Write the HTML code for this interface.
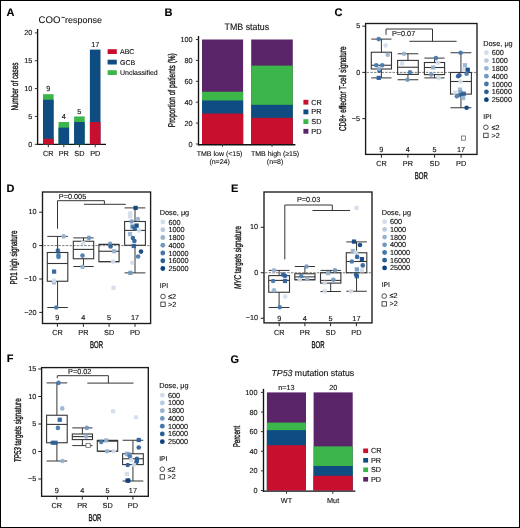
<!DOCTYPE html>
<html><head><meta charset="utf-8"><title>Figure</title>
<style>
html,body{margin:0;padding:0;background:#fff;}
body{width:520px;height:528px;overflow:hidden;position:relative;}
svg text.cond{stroke-width:0.35px;}
svg{position:absolute;left:0;top:0;display:block;will-change:transform;}
svg text{font-family:"Liberation Sans", sans-serif;text-rendering:geometricPrecision;stroke:#111;stroke-width:0.12px;}
</style></head>
<body>
<svg width="520" height="528" viewBox="0 0 520 528">
<rect x="0" y="0" width="520" height="528" fill="#fff"/>
<text x="6.4" y="16.3" font-size="11" text-anchor="start" font-weight="bold" fill="#000" >A</text>
<text x="38.6" y="22.8" font-size="9.6" text-anchor="start" font-weight="normal" fill="#111" >COO</text>
<line x1="61.5" y1="17.4" x2="64.8" y2="17.4" stroke="#222" stroke-width="0.9" />
<text x="65.1" y="22.85" font-size="8.95" text-anchor="start" font-weight="normal" fill="#111" >response</text>
<line x1="37.6" y1="29" x2="37.6" y2="145.1" stroke="#111" stroke-width="1.35" />
<line x1="36.95" y1="144.45" x2="106" y2="144.45" stroke="#111" stroke-width="1.3" />
<line x1="34.8" y1="144.3" x2="37.6" y2="144.3" stroke="#353535" stroke-width="1" />
<text x="32.3" y="146.8" font-size="7.3" text-anchor="end" font-weight="normal" fill="#111" >0</text>
<line x1="34.8" y1="116.45000000000002" x2="37.6" y2="116.45000000000002" stroke="#353535" stroke-width="1" />
<text x="32.3" y="118.95000000000002" font-size="7.3" text-anchor="end" font-weight="normal" fill="#111" >5</text>
<line x1="34.8" y1="88.60000000000001" x2="37.6" y2="88.60000000000001" stroke="#353535" stroke-width="1" />
<text x="32.3" y="91.10000000000001" font-size="7.3" text-anchor="end" font-weight="normal" fill="#111" >10</text>
<line x1="34.8" y1="60.75" x2="37.6" y2="60.75" stroke="#353535" stroke-width="1" />
<text x="32.3" y="63.25" font-size="7.3" text-anchor="end" font-weight="normal" fill="#111" >15</text>
<line x1="34.8" y1="32.900000000000006" x2="37.6" y2="32.900000000000006" stroke="#353535" stroke-width="1" />
<text x="32.3" y="35.400000000000006" font-size="7.3" text-anchor="end" font-weight="normal" fill="#111" >20</text>
<rect x="43.0" y="94.17000000000002" width="10.6" height="50.13" fill="#3cb54a"/>
<rect x="43.0" y="99.74000000000001" width="10.6" height="44.56" fill="#0f4c81"/>
<rect x="43.0" y="138.73000000000002" width="10.6" height="5.57" fill="#c8102e"/>
<line x1="48.3" y1="144.3" x2="48.3" y2="147.3" stroke="#353535" stroke-width="1" />
<text x="48.3" y="91.37000000000002" font-size="7.3" text-anchor="middle" font-weight="normal" fill="#111" >9</text>
<text x="48.3" y="156.3" font-size="7.3" text-anchor="middle" font-weight="normal" fill="#111" >CR</text>
<rect x="58.5" y="122.02000000000001" width="10.6" height="22.28" fill="#3cb54a"/>
<rect x="58.5" y="127.59" width="10.6" height="16.71" fill="#0f4c81"/>
<line x1="63.8" y1="144.3" x2="63.8" y2="147.3" stroke="#353535" stroke-width="1" />
<text x="63.8" y="119.22000000000001" font-size="7.3" text-anchor="middle" font-weight="normal" fill="#111" >4</text>
<text x="63.8" y="156.3" font-size="7.3" text-anchor="middle" font-weight="normal" fill="#111" >PR</text>
<rect x="74.10000000000001" y="116.45000000000002" width="10.6" height="27.85" fill="#3cb54a"/>
<rect x="74.10000000000001" y="122.02000000000001" width="10.6" height="22.28" fill="#0f4c81"/>
<line x1="79.4" y1="144.3" x2="79.4" y2="147.3" stroke="#353535" stroke-width="1" />
<text x="79.4" y="113.65000000000002" font-size="7.3" text-anchor="middle" font-weight="normal" fill="#111" >5</text>
<text x="79.4" y="156.3" font-size="7.3" text-anchor="middle" font-weight="normal" fill="#111" >SD</text>
<rect x="89.9" y="49.610000000000014" width="10.6" height="94.69" fill="#0f4c81"/>
<rect x="89.9" y="122.02000000000001" width="10.6" height="22.28" fill="#c8102e"/>
<line x1="95.2" y1="144.3" x2="95.2" y2="147.3" stroke="#353535" stroke-width="1" />
<text x="95.2" y="46.81000000000002" font-size="7.3" text-anchor="middle" font-weight="normal" fill="#111" >17</text>
<text x="95.2" y="156.3" font-size="7.3" text-anchor="middle" font-weight="normal" fill="#111" >PD</text>
<rect x="107.6" y="49.2" width="9.2" height="4.8" fill="#c8102e"/>
<text x="120" y="54.2" font-size="7" text-anchor="start" font-weight="normal" fill="#111" >ABC</text>
<rect x="107.6" y="59.7" width="9.2" height="4.8" fill="#0f4c81"/>
<text x="120" y="64.7" font-size="7" text-anchor="start" font-weight="normal" fill="#111" >GCB</text>
<rect x="107.6" y="70.2" width="9.2" height="4.8" fill="#3cb54a"/>
<text x="120" y="75.2" font-size="7" text-anchor="start" font-weight="normal" fill="#111" >Unclassified</text>
<text class="cond" transform="translate(18,86.5) rotate(-90)" font-size="9.8" text-anchor="middle" fill="#111" textLength="48" lengthAdjust="spacingAndGlyphs">Number of cases</text>
<text x="164.4" y="16.2" font-size="11" text-anchor="start" font-weight="bold" fill="#000" >B</text>
<text x="224.6" y="29.8" font-size="9.5" text-anchor="start" font-weight="normal" fill="#111" textLength="44.6" lengthAdjust="spacingAndGlyphs">TMB status</text>
<line x1="198.5" y1="36" x2="198.5" y2="145.4" stroke="#111" stroke-width="1.35" />
<line x1="197.85" y1="144.7" x2="295.4" y2="144.7" stroke="#111" stroke-width="1.4" />
<line x1="195.9" y1="144.0" x2="198.5" y2="144.0" stroke="#353535" stroke-width="1" />
<text x="192.6" y="146.5" font-size="7.3" text-anchor="end" font-weight="normal" fill="#111" >0</text>
<line x1="195.9" y1="123.1" x2="198.5" y2="123.1" stroke="#353535" stroke-width="1" />
<text x="192.6" y="125.6" font-size="7.3" text-anchor="end" font-weight="normal" fill="#111" >20</text>
<line x1="195.9" y1="102.2" x2="198.5" y2="102.2" stroke="#353535" stroke-width="1" />
<text x="192.6" y="104.7" font-size="7.3" text-anchor="end" font-weight="normal" fill="#111" >40</text>
<line x1="195.9" y1="81.30000000000001" x2="198.5" y2="81.30000000000001" stroke="#353535" stroke-width="1" />
<text x="192.6" y="83.80000000000001" font-size="7.3" text-anchor="end" font-weight="normal" fill="#111" >60</text>
<line x1="195.9" y1="60.400000000000006" x2="198.5" y2="60.400000000000006" stroke="#353535" stroke-width="1" />
<text x="192.6" y="62.900000000000006" font-size="7.3" text-anchor="end" font-weight="normal" fill="#111" >80</text>
<line x1="195.9" y1="39.5" x2="198.5" y2="39.5" stroke="#353535" stroke-width="1" />
<text x="192.6" y="42.0" font-size="7.3" text-anchor="end" font-weight="normal" fill="#111" >100</text>
<rect x="202" y="39.5" width="41.099999999999994" height="104.5" fill="#5a2469"/>
<rect x="202" y="91.75" width="41.099999999999994" height="52.25" fill="#3cb54a"/>
<rect x="202" y="100.45485" width="41.099999999999994" height="43.54515" fill="#0f4c81"/>
<rect x="202" y="113.51735" width="41.099999999999994" height="30.48265" fill="#c8102e"/>
<line x1="222.5" y1="144.0" x2="222.5" y2="146.8" stroke="#353535" stroke-width="1" />
<rect x="251.2" y="39.5" width="41.60000000000002" height="104.5" fill="#5a2469"/>
<rect x="251.2" y="65.625" width="41.60000000000002" height="78.375" fill="#3cb54a"/>
<rect x="251.2" y="104.8125" width="41.60000000000002" height="39.1875" fill="#0f4c81"/>
<rect x="251.2" y="117.875" width="41.60000000000002" height="26.125" fill="#c8102e"/>
<line x1="272" y1="144.0" x2="272" y2="146.8" stroke="#353535" stroke-width="1" />
<text x="219.6" y="155.8" font-size="7" text-anchor="middle" font-weight="normal" fill="#111" >TMB low (&lt;15)</text>
<text x="219.6" y="164" font-size="7" text-anchor="middle" font-weight="normal" fill="#111" >(n=24)</text>
<text x="275.1" y="155.8" font-size="7" text-anchor="middle" font-weight="normal" fill="#111" >TMB high (≥15)</text>
<text x="275.1" y="164" font-size="7" text-anchor="middle" font-weight="normal" fill="#111" >(n=8)</text>
<rect x="303.4" y="99.8" width="5" height="4.8" fill="#c8102e"/>
<text x="311.3" y="104.7" font-size="7.3" text-anchor="start" font-weight="normal" fill="#111" >CR</text>
<rect x="303.4" y="109.5" width="5" height="4.8" fill="#0f4c81"/>
<text x="311.3" y="114.4" font-size="7.3" text-anchor="start" font-weight="normal" fill="#111" >PR</text>
<rect x="303.4" y="119.19999999999999" width="5" height="4.8" fill="#3cb54a"/>
<text x="311.3" y="124.1" font-size="7.3" text-anchor="start" font-weight="normal" fill="#111" >SD</text>
<rect x="303.4" y="128.9" width="5" height="4.8" fill="#5a2469"/>
<text x="311.3" y="133.8" font-size="7.3" text-anchor="start" font-weight="normal" fill="#111" >PD</text>
<text class="cond" transform="translate(174.6,90.2) rotate(-90)" font-size="9.8" text-anchor="middle" fill="#111" textLength="74" lengthAdjust="spacingAndGlyphs">Proportion of patients (%)</text>
<text x="334.4" y="16.2" font-size="11" text-anchor="start" font-weight="bold" fill="#000" >C</text>
<line x1="366.6" y1="72.4" x2="477.0" y2="72.4" stroke="#707070" stroke-width="0.9" stroke-dasharray="2.5,1.2"/>
<rect x="365.6" y="23.5" width="111.39999999999998" height="130.9" fill="none" stroke="#1a1a1a" stroke-width="1.35"/>
<line x1="362.3" y1="26.150000000000006" x2="365.6" y2="26.150000000000006" stroke="#222" stroke-width="1" />
<text x="360.2" y="28.350000000000005" font-size="7.3" text-anchor="end" font-weight="normal" fill="#111" >5</text>
<line x1="362.3" y1="72.4" x2="365.6" y2="72.4" stroke="#222" stroke-width="1" />
<text x="360.2" y="74.60000000000001" font-size="7.3" text-anchor="end" font-weight="normal" fill="#111" >0</text>
<line x1="362.3" y1="118.65" x2="365.6" y2="118.65" stroke="#222" stroke-width="1" />
<text x="360.2" y="120.85000000000001" font-size="7.3" text-anchor="end" font-weight="normal" fill="#111" >−5</text>
<line x1="381.4" y1="154.4" x2="381.4" y2="157.70000000000002" stroke="#222" stroke-width="1" />
<text x="381.4" y="151.5" font-size="7.3" text-anchor="middle" font-weight="normal" fill="#111" >9</text>
<text x="381.4" y="166.3" font-size="7.3" text-anchor="middle" font-weight="normal" fill="#111" >CR</text>
<line x1="407.9" y1="154.4" x2="407.9" y2="157.70000000000002" stroke="#222" stroke-width="1" />
<text x="407.9" y="151.5" font-size="7.3" text-anchor="middle" font-weight="normal" fill="#111" >4</text>
<text x="407.9" y="166.3" font-size="7.3" text-anchor="middle" font-weight="normal" fill="#111" >PR</text>
<line x1="434.6" y1="154.4" x2="434.6" y2="157.70000000000002" stroke="#222" stroke-width="1" />
<text x="434.6" y="151.5" font-size="7.3" text-anchor="middle" font-weight="normal" fill="#111" >5</text>
<text x="434.6" y="166.3" font-size="7.3" text-anchor="middle" font-weight="normal" fill="#111" >SD</text>
<line x1="461.1" y1="154.4" x2="461.1" y2="157.70000000000002" stroke="#222" stroke-width="1" />
<text x="461.1" y="151.5" font-size="7.3" text-anchor="middle" font-weight="normal" fill="#111" >17</text>
<text x="461.1" y="166.3" font-size="7.3" text-anchor="middle" font-weight="normal" fill="#111" >PD</text>
<text class="cond" x="421.3" y="178.9" font-size="9.8" text-anchor="middle" fill="#111" textLength="13" lengthAdjust="spacingAndGlyphs">BOR</text>
<path d="M386,34.8 V29 H432.5 V41.3" fill="none" stroke="#353535" stroke-width="1"/>
<line x1="409.4" y1="41.3" x2="456.6" y2="41.3" stroke="#353535" stroke-width="1" />
<text x="391.9" y="36" font-size="7.3" text-anchor="start" font-weight="normal" fill="#111" >P=0.07</text>
<line x1="381.4" y1="39.1" x2="381.4" y2="52.25" stroke="#353535" stroke-width="1" />
<line x1="381.4" y1="69" x2="381.4" y2="77.9" stroke="#353535" stroke-width="1" />
<line x1="371.3" y1="39.1" x2="391.5" y2="39.1" stroke="#353535" stroke-width="1" />
<line x1="371.3" y1="77.9" x2="391.5" y2="77.9" stroke="#353535" stroke-width="1" />
<rect x="371.3" y="52.25" width="20.19999999999999" height="16.75" fill="none" stroke="#353535" stroke-width="1.1"/>
<line x1="371.3" y1="65.25" x2="391.5" y2="65.25" stroke="#353535" stroke-width="1.1" />
<line x1="407.95000000000005" y1="53.75" x2="407.95000000000005" y2="60.4" stroke="#353535" stroke-width="1" />
<line x1="407.95000000000005" y1="74.4" x2="407.95000000000005" y2="79.75" stroke="#353535" stroke-width="1" />
<line x1="397.6" y1="53.75" x2="418.3" y2="53.75" stroke="#353535" stroke-width="1" />
<line x1="397.6" y1="79.75" x2="418.3" y2="79.75" stroke="#353535" stroke-width="1" />
<rect x="397.6" y="60.4" width="20.69999999999999" height="14.000000000000007" fill="none" stroke="#353535" stroke-width="1.1"/>
<line x1="397.6" y1="67.25" x2="418.3" y2="67.25" stroke="#353535" stroke-width="1.1" />
<line x1="434.5" y1="58.1" x2="434.5" y2="62.5" stroke="#353535" stroke-width="1" />
<line x1="434.5" y1="74.6" x2="434.5" y2="77.9" stroke="#353535" stroke-width="1" />
<line x1="424.4" y1="58.1" x2="444.6" y2="58.1" stroke="#353535" stroke-width="1" />
<line x1="424.4" y1="77.9" x2="444.6" y2="77.9" stroke="#353535" stroke-width="1" />
<rect x="424.4" y="62.5" width="20.200000000000045" height="12.099999999999994" fill="none" stroke="#353535" stroke-width="1.1"/>
<line x1="424.4" y1="67.5" x2="444.6" y2="67.5" stroke="#353535" stroke-width="1.1" />
<line x1="460.95" y1="52.75" x2="460.95" y2="72.5" stroke="#353535" stroke-width="1" />
<line x1="460.95" y1="94.1" x2="460.95" y2="107.75" stroke="#353535" stroke-width="1" />
<line x1="450.5" y1="52.75" x2="471.4" y2="52.75" stroke="#353535" stroke-width="1" />
<line x1="450.5" y1="107.75" x2="471.4" y2="107.75" stroke="#353535" stroke-width="1" />
<rect x="450.5" y="72.5" width="20.899999999999977" height="21.599999999999994" fill="none" stroke="#353535" stroke-width="1.1"/>
<line x1="450.5" y1="81.5" x2="471.4" y2="81.5" stroke="#353535" stroke-width="1.1" />
<circle cx="378.75" cy="39.1" r="2.3" fill="#4677ab" fill-opacity="0.92"/>
<circle cx="385.6" cy="45.4" r="2.3" fill="#d2dde9" fill-opacity="0.92"/>
<circle cx="387.75" cy="54.75" r="2.3" fill="#97b3d0" fill-opacity="0.92"/>
<circle cx="376.25" cy="65.25" r="2.3" fill="#4677ab" fill-opacity="0.92"/>
<circle cx="382.25" cy="65.25" r="2.3" fill="#4677ab" fill-opacity="0.92"/>
<circle cx="379.4" cy="70.6" r="2.3" fill="#2a5e96" fill-opacity="0.92"/>
<circle cx="379" cy="68.75" r="2.3" fill="#97b3d0" fill-opacity="0.92"/>
<rect x="376.62" y="75.77" width="4.25" height="4.25" fill="#2a5e96" fill-opacity="0.92"/>
<circle cx="404" cy="53.75" r="2.3" fill="#97b3d0" fill-opacity="0.92"/>
<rect x="399.97" y="61.27" width="4.25" height="4.25" fill="#d2dde9" fill-opacity="0.92"/>
<circle cx="410" cy="72.25" r="2.3" fill="#4677ab" fill-opacity="0.92"/>
<circle cx="407.5" cy="79.75" r="2.3" fill="#7398c0" fill-opacity="0.92"/>
<circle cx="435.9" cy="58.1" r="2.3" fill="#4677ab" fill-opacity="0.92"/>
<circle cx="438.1" cy="62.75" r="2.3" fill="#d2dde9" fill-opacity="0.92"/>
<rect x="430.97" y="65.37" width="4.25" height="4.25" fill="#97b3d0" fill-opacity="0.92"/>
<circle cx="431.25" cy="74.6" r="2.3" fill="#7398c0" fill-opacity="0.92"/>
<circle cx="438.75" cy="78.1" r="2.3" fill="#d2dde9" fill-opacity="0.92"/>
<circle cx="460.6" cy="52.75" r="2.3" fill="#4677ab" fill-opacity="0.92"/>
<rect x="462.87" y="63.12" width="4.25" height="4.25" fill="#97b3d0" fill-opacity="0.92"/>
<rect x="461.97" y="67.27" width="4.25" height="4.25" fill="#d2dde9" fill-opacity="0.92"/>
<rect x="465.62" y="67.62" width="4.25" height="4.25" fill="#0b417d" fill-opacity="0.92"/>
<circle cx="466.6" cy="73.75" r="2.3" fill="#4677ab" fill-opacity="0.92"/>
<circle cx="459.4" cy="75.25" r="2.3" fill="#2a5e96" fill-opacity="0.92"/>
<circle cx="458.1" cy="76.25" r="2.3" fill="#2a5e96" fill-opacity="0.92"/>
<circle cx="460.6" cy="81.5" r="2.3" fill="#d2dde9" fill-opacity="0.92"/>
<rect x="457.87" y="87.47" width="4.25" height="4.25" fill="#97b3d0" fill-opacity="0.92"/>
<rect x="453.27" y="90.62" width="4.25" height="4.25" fill="#d2dde9" fill-opacity="0.92"/>
<rect x="458.47" y="90.37" width="4.25" height="4.25" fill="#7398c0" fill-opacity="0.92"/>
<rect x="461.62" y="91.62" width="4.25" height="4.25" fill="#2a5e96" fill-opacity="0.92"/>
<circle cx="461" cy="95" r="2.3" fill="#2a5e96" fill-opacity="0.92"/>
<circle cx="456.9" cy="96.25" r="2.3" fill="#4677ab" fill-opacity="0.92"/>
<rect x="460.97" y="95.97" width="4.25" height="4.25" fill="#97b3d0" fill-opacity="0.92"/>
<circle cx="466.6" cy="107.75" r="2.3" fill="#0b417d" fill-opacity="0.92"/>
<rect x="461.4" y="136.0" width="4.2" height="4.2" fill="#fff" stroke="#555" stroke-width="0.7"/>
<text x="483.3" y="45.9" font-size="7.3" text-anchor="start" font-weight="normal" fill="#111" >Dose, μg</text>
<circle cx="486.4" cy="52.7" r="2.4" fill="#d2dde9"/>
<text x="491.7" y="55.2" font-size="7.3" text-anchor="start" font-weight="normal" fill="#111" >600</text>
<circle cx="486.4" cy="60.53" r="2.4" fill="#b8cbe0"/>
<text x="491.7" y="63.03" font-size="7.3" text-anchor="start" font-weight="normal" fill="#111" >1000</text>
<circle cx="486.4" cy="68.36" r="2.4" fill="#97b3d0"/>
<text x="491.7" y="70.86" font-size="7.3" text-anchor="start" font-weight="normal" fill="#111" >1800</text>
<circle cx="486.4" cy="76.19" r="2.4" fill="#7398c0"/>
<text x="491.7" y="78.69" font-size="7.3" text-anchor="start" font-weight="normal" fill="#111" >4000</text>
<circle cx="486.4" cy="84.02000000000001" r="2.4" fill="#4677ab"/>
<text x="491.7" y="86.52000000000001" font-size="7.3" text-anchor="start" font-weight="normal" fill="#111" >10000</text>
<circle cx="486.4" cy="91.85" r="2.4" fill="#2a5e96"/>
<text x="491.7" y="94.35" font-size="7.3" text-anchor="start" font-weight="normal" fill="#111" >16000</text>
<circle cx="486.4" cy="99.68" r="2.4" fill="#0b417d"/>
<text x="491.7" y="102.18" font-size="7.3" text-anchor="start" font-weight="normal" fill="#111" >25000</text>
<text x="483.3" y="119.3" font-size="6.8" text-anchor="start" font-weight="normal" fill="#111" >IPI</text>
<circle cx="485.9" cy="127.3" r="2.3" fill="#fff" stroke="#333" stroke-width="0.85"/>
<rect x="483.7" y="133.20000000000002" width="4.4" height="4.4" fill="#fff" stroke="#333" stroke-width="0.85"/>
<text x="491.4" y="129.6" font-size="7.3" text-anchor="start" font-weight="normal" fill="#111" >≤2</text>
<text x="491.4" y="137.70000000000002" font-size="7.3" text-anchor="start" font-weight="normal" fill="#111" >&gt;2</text>
<text class="cond" transform="translate(345.7,88.7) rotate(-90)" font-size="9.8" text-anchor="middle" fill="#111" textLength="84.6" lengthAdjust="spacingAndGlyphs">CD8+ effector T-cell signature</text>
<text x="6.5" y="192.1" font-size="11" text-anchor="start" font-weight="bold" fill="#000" >D</text>
<line x1="43.5" y1="245.6" x2="150.6" y2="245.6" stroke="#707070" stroke-width="0.9" stroke-dasharray="2.5,1.2"/>
<rect x="42.5" y="192.0" width="108.1" height="131.5" fill="none" stroke="#1a1a1a" stroke-width="1.35"/>
<line x1="39.2" y1="212.2" x2="42.5" y2="212.2" stroke="#222" stroke-width="1" />
<text x="36.6" y="214.39999999999998" font-size="7.3" text-anchor="end" font-weight="normal" fill="#111" >10</text>
<line x1="39.2" y1="245.6" x2="42.5" y2="245.6" stroke="#222" stroke-width="1" />
<text x="36.6" y="247.79999999999998" font-size="7.3" text-anchor="end" font-weight="normal" fill="#111" >0</text>
<line x1="39.2" y1="279.0" x2="42.5" y2="279.0" stroke="#222" stroke-width="1" />
<text x="36.6" y="281.2" font-size="7.3" text-anchor="end" font-weight="normal" fill="#111" >−10</text>
<line x1="39.2" y1="312.4" x2="42.5" y2="312.4" stroke="#222" stroke-width="1" />
<text x="36.6" y="314.59999999999997" font-size="7.3" text-anchor="end" font-weight="normal" fill="#111" >−20</text>
<line x1="57.4" y1="323.5" x2="57.4" y2="326.8" stroke="#222" stroke-width="1" />
<text x="57.4" y="320.4" font-size="7.3" text-anchor="middle" font-weight="normal" fill="#111" >9</text>
<text x="57.4" y="334.6" font-size="7.3" text-anchor="middle" font-weight="normal" fill="#111" >CR</text>
<line x1="83.4" y1="323.5" x2="83.4" y2="326.8" stroke="#222" stroke-width="1" />
<text x="83.4" y="320.4" font-size="7.3" text-anchor="middle" font-weight="normal" fill="#111" >4</text>
<text x="83.4" y="334.6" font-size="7.3" text-anchor="middle" font-weight="normal" fill="#111" >PR</text>
<line x1="109.1" y1="323.5" x2="109.1" y2="326.8" stroke="#222" stroke-width="1" />
<text x="109.1" y="320.4" font-size="7.3" text-anchor="middle" font-weight="normal" fill="#111" >5</text>
<text x="109.1" y="334.6" font-size="7.3" text-anchor="middle" font-weight="normal" fill="#111" >SD</text>
<line x1="135" y1="323.5" x2="135" y2="326.8" stroke="#222" stroke-width="1" />
<text x="135" y="320.4" font-size="7.3" text-anchor="middle" font-weight="normal" fill="#111" >17</text>
<text x="135" y="334.6" font-size="7.3" text-anchor="middle" font-weight="normal" fill="#111" >PD</text>
<text class="cond" x="96.55" y="347.9" font-size="9.8" text-anchor="middle" fill="#111" textLength="13" lengthAdjust="spacingAndGlyphs">BOR</text>
<path d="M57.5,228.75 V200.7 H104.4 V204.3" fill="none" stroke="#353535" stroke-width="1"/>
<line x1="84" y1="204.3" x2="125.8" y2="204.3" stroke="#353535" stroke-width="1" />
<text x="58.8" y="198.8" font-size="7.3" text-anchor="start" font-weight="normal" fill="#111" >P=0.005</text>
<line x1="57.55" y1="236.4" x2="57.55" y2="252.5" stroke="#353535" stroke-width="1" />
<line x1="57.55" y1="281.25" x2="57.55" y2="307.5" stroke="#353535" stroke-width="1" />
<line x1="47.3" y1="236.4" x2="67.8" y2="236.4" stroke="#353535" stroke-width="1" />
<line x1="47.3" y1="307.5" x2="67.8" y2="307.5" stroke="#353535" stroke-width="1" />
<rect x="47.3" y="252.5" width="20.5" height="28.75" fill="none" stroke="#353535" stroke-width="1.1"/>
<line x1="47.3" y1="263.5" x2="67.8" y2="263.5" stroke="#353535" stroke-width="1.1" />
<line x1="83.5" y1="237.9" x2="83.5" y2="241.25" stroke="#353535" stroke-width="1" />
<line x1="83.5" y1="258.75" x2="83.5" y2="266.5" stroke="#353535" stroke-width="1" />
<line x1="73.3" y1="237.9" x2="93.7" y2="237.9" stroke="#353535" stroke-width="1" />
<line x1="73.3" y1="266.5" x2="93.7" y2="266.5" stroke="#353535" stroke-width="1" />
<rect x="73.3" y="241.25" width="20.400000000000006" height="17.5" fill="none" stroke="#353535" stroke-width="1.1"/>
<line x1="73.3" y1="249.4" x2="93.7" y2="249.4" stroke="#353535" stroke-width="1.1" />
<line x1="109.0" y1="244.4" x2="109.0" y2="244.4" stroke="#353535" stroke-width="1" />
<line x1="109.0" y1="261.7" x2="109.0" y2="261.7" stroke="#353535" stroke-width="1" />
<line x1="98.9" y1="244.4" x2="119.1" y2="244.4" stroke="#353535" stroke-width="1" />
<line x1="98.9" y1="261.7" x2="119.1" y2="261.7" stroke="#353535" stroke-width="1" />
<rect x="98.9" y="244.4" width="20.19999999999999" height="17.299999999999983" fill="none" stroke="#353535" stroke-width="1.1"/>
<line x1="98.9" y1="251.25" x2="119.1" y2="251.25" stroke="#353535" stroke-width="1.1" />
<line x1="135.0" y1="207.9" x2="135.0" y2="221.5" stroke="#353535" stroke-width="1" />
<line x1="135.0" y1="245.25" x2="135.0" y2="272.9" stroke="#353535" stroke-width="1" />
<line x1="124.6" y1="207.9" x2="145.4" y2="207.9" stroke="#353535" stroke-width="1" />
<line x1="124.6" y1="272.9" x2="145.4" y2="272.9" stroke="#353535" stroke-width="1" />
<rect x="124.6" y="221.5" width="20.80000000000001" height="23.75" fill="none" stroke="#353535" stroke-width="1.1"/>
<line x1="124.6" y1="230.4" x2="145.4" y2="230.4" stroke="#353535" stroke-width="1.1" />
<circle cx="63.75" cy="236.4" r="2.3" fill="#97b3d0" fill-opacity="0.92"/>
<circle cx="57.9" cy="250.6" r="2.3" fill="#2a5e96" fill-opacity="0.92"/>
<circle cx="58.5" cy="255" r="2.3" fill="#4677ab" fill-opacity="0.92"/>
<circle cx="58.5" cy="256.9" r="2.3" fill="#4677ab" fill-opacity="0.92"/>
<rect x="51.97" y="269.47" width="4.25" height="4.25" fill="#2a5e96" fill-opacity="0.92"/>
<circle cx="54.1" cy="282.5" r="2.3" fill="#97b3d0" fill-opacity="0.92"/>
<circle cx="54.1" cy="280.6" r="2.3" fill="#d2dde9" fill-opacity="0.92"/>
<circle cx="56.25" cy="307.5" r="2.3" fill="#4677ab" fill-opacity="0.92"/>
<circle cx="89" cy="237.9" r="2.3" fill="#7398c0" fill-opacity="0.92"/>
<rect x="80.97" y="240.97" width="4.25" height="4.25" fill="#d2dde9" fill-opacity="0.92"/>
<circle cx="82.5" cy="255.6" r="2.3" fill="#4677ab" fill-opacity="0.92"/>
<circle cx="82.5" cy="266.9" r="2.3" fill="#97b3d0" fill-opacity="0.92"/>
<circle cx="110" cy="243.75" r="2.3" fill="#7398c0" fill-opacity="0.92"/>
<circle cx="110.6" cy="246.5" r="2.3" fill="#2a5e96" fill-opacity="0.92"/>
<rect x="111.87" y="249.12" width="4.25" height="4.25" fill="#97b3d0" fill-opacity="0.92"/>
<circle cx="113.1" cy="261.6" r="2.3" fill="#d2dde9" fill-opacity="0.92"/>
<rect x="111.37" y="285.62" width="4.25" height="4.25" fill="#d2dde9" fill-opacity="0.92"/>
<rect x="128.07" y="211.17" width="4.25" height="4.25" fill="#d2dde9" fill-opacity="0.92"/>
<rect x="128.07" y="214.17" width="4.25" height="4.25" fill="#d2dde9" fill-opacity="0.92"/>
<rect x="133.47" y="205.77" width="4.25" height="4.25" fill="#0b417d" fill-opacity="0.92"/>
<circle cx="137.9" cy="219.1" r="2.3" fill="#97b3d0" fill-opacity="0.92"/>
<circle cx="131.6" cy="221.5" r="2.3" fill="#7398c0" fill-opacity="0.92"/>
<rect x="130.37" y="224.47" width="4.25" height="4.25" fill="#4677ab" fill-opacity="0.92"/>
<rect x="134.47" y="223.47" width="4.25" height="4.25" fill="#0b417d" fill-opacity="0.92"/>
<rect x="132.62" y="226.62" width="4.25" height="4.25" fill="#2a5e96" fill-opacity="0.92"/>
<circle cx="139" cy="230.6" r="2.3" fill="#d2dde9" fill-opacity="0.92"/>
<rect x="127.87" y="231.97" width="4.25" height="4.25" fill="#97b3d0" fill-opacity="0.92"/>
<circle cx="132.9" cy="238.1" r="2.3" fill="#2a5e96" fill-opacity="0.92"/>
<circle cx="134.4" cy="241" r="2.3" fill="#2a5e96" fill-opacity="0.92"/>
<rect x="131.62" y="243.87" width="4.25" height="4.25" fill="#2a5e96" fill-opacity="0.92"/>
<circle cx="141" cy="251.6" r="2.3" fill="#0b417d" fill-opacity="0.92"/>
<circle cx="138.1" cy="256.5" r="2.3" fill="#4677ab" fill-opacity="0.92"/>
<circle cx="132.25" cy="262.75" r="2.3" fill="#d2dde9" fill-opacity="0.92"/>
<rect x="128.27" y="270.77" width="4.25" height="4.25" fill="#7398c0" fill-opacity="0.92"/>
<text x="159.8" y="214.8" font-size="7.3" text-anchor="start" font-weight="normal" fill="#111" >Dose, μg</text>
<circle cx="162.8" cy="222.0" r="2.4" fill="#d2dde9"/>
<text x="168.4" y="224.5" font-size="7.3" text-anchor="start" font-weight="normal" fill="#111" >600</text>
<circle cx="162.8" cy="229.75" r="2.4" fill="#b8cbe0"/>
<text x="168.4" y="232.25" font-size="7.3" text-anchor="start" font-weight="normal" fill="#111" >1000</text>
<circle cx="162.8" cy="237.5" r="2.4" fill="#97b3d0"/>
<text x="168.4" y="240.0" font-size="7.3" text-anchor="start" font-weight="normal" fill="#111" >1800</text>
<circle cx="162.8" cy="245.25" r="2.4" fill="#7398c0"/>
<text x="168.4" y="247.75" font-size="7.3" text-anchor="start" font-weight="normal" fill="#111" >4000</text>
<circle cx="162.8" cy="253.0" r="2.4" fill="#4677ab"/>
<text x="168.4" y="255.5" font-size="7.3" text-anchor="start" font-weight="normal" fill="#111" >10000</text>
<circle cx="162.8" cy="260.75" r="2.4" fill="#2a5e96"/>
<text x="168.4" y="263.25" font-size="7.3" text-anchor="start" font-weight="normal" fill="#111" >16000</text>
<circle cx="162.8" cy="268.5" r="2.4" fill="#0b417d"/>
<text x="168.4" y="271.0" font-size="7.3" text-anchor="start" font-weight="normal" fill="#111" >25000</text>
<text x="159.8" y="288.2" font-size="6.8" text-anchor="start" font-weight="normal" fill="#111" >IPI</text>
<circle cx="163.0" cy="296.5" r="2.3" fill="#fff" stroke="#333" stroke-width="0.85"/>
<rect x="160.8" y="302.1" width="4.4" height="4.4" fill="#fff" stroke="#333" stroke-width="0.85"/>
<text x="168.1" y="298.8" font-size="7.3" text-anchor="start" font-weight="normal" fill="#111" >≤2</text>
<text x="168.1" y="306.6" font-size="7.3" text-anchor="start" font-weight="normal" fill="#111" >&gt;2</text>
<text class="cond" transform="translate(17.2,257.5) rotate(-90)" font-size="9.8" text-anchor="middle" fill="#111" textLength="54" lengthAdjust="spacingAndGlyphs">PD1 high signature</text>
<text x="231.1" y="192.2" font-size="11" text-anchor="start" font-weight="bold" fill="#000" >E</text>
<line x1="265" y1="272.75" x2="372.0" y2="272.75" stroke="#707070" stroke-width="0.9" stroke-dasharray="2.5,1.2"/>
<rect x="264" y="192.0" width="108.0" height="130.89999999999998" fill="none" stroke="#1a1a1a" stroke-width="1.35"/>
<line x1="260.7" y1="227.25" x2="264" y2="227.25" stroke="#222" stroke-width="1" />
<text x="258.2" y="229.45" font-size="7.3" text-anchor="end" font-weight="normal" fill="#111" >10</text>
<line x1="260.7" y1="272.75" x2="264" y2="272.75" stroke="#222" stroke-width="1" />
<text x="258.2" y="274.95" font-size="7.3" text-anchor="end" font-weight="normal" fill="#111" >0</text>
<line x1="260.7" y1="318.25" x2="264" y2="318.25" stroke="#222" stroke-width="1" />
<text x="258.2" y="320.45" font-size="7.3" text-anchor="end" font-weight="normal" fill="#111" >−10</text>
<line x1="279.2" y1="322.9" x2="279.2" y2="326.2" stroke="#222" stroke-width="1" />
<text x="279.2" y="320.5" font-size="7.3" text-anchor="middle" font-weight="normal" fill="#111" >9</text>
<text x="279.2" y="334.75" font-size="7.3" text-anchor="middle" font-weight="normal" fill="#111" >CR</text>
<line x1="304.9" y1="322.9" x2="304.9" y2="326.2" stroke="#222" stroke-width="1" />
<text x="304.9" y="320.5" font-size="7.3" text-anchor="middle" font-weight="normal" fill="#111" >4</text>
<text x="304.9" y="334.75" font-size="7.3" text-anchor="middle" font-weight="normal" fill="#111" >PR</text>
<line x1="330.6" y1="322.9" x2="330.6" y2="326.2" stroke="#222" stroke-width="1" />
<text x="330.6" y="320.5" font-size="7.3" text-anchor="middle" font-weight="normal" fill="#111" >5</text>
<text x="330.6" y="334.75" font-size="7.3" text-anchor="middle" font-weight="normal" fill="#111" >SD</text>
<line x1="356.4" y1="322.9" x2="356.4" y2="326.2" stroke="#222" stroke-width="1" />
<text x="356.4" y="320.5" font-size="7.3" text-anchor="middle" font-weight="normal" fill="#111" >17</text>
<text x="356.4" y="334.75" font-size="7.3" text-anchor="middle" font-weight="normal" fill="#111" >PD</text>
<text class="cond" x="318.0" y="348" font-size="9.8" text-anchor="middle" fill="#111" textLength="13" lengthAdjust="spacingAndGlyphs">BOR</text>
<path d="M284.8,259.4 V205 H332.3 V210.5" fill="none" stroke="#353535" stroke-width="1"/>
<line x1="312.5" y1="210.5" x2="350" y2="210.5" stroke="#353535" stroke-width="1" />
<text x="296.9" y="201.5" font-size="7.3" text-anchor="start" font-weight="normal" fill="#111" >P=0.03</text>
<line x1="279.1" y1="270.4" x2="279.1" y2="275.6" stroke="#353535" stroke-width="1" />
<line x1="279.1" y1="292.25" x2="279.1" y2="307.5" stroke="#353535" stroke-width="1" />
<line x1="268.7" y1="270.4" x2="289.5" y2="270.4" stroke="#353535" stroke-width="1" />
<line x1="268.7" y1="307.5" x2="289.5" y2="307.5" stroke="#353535" stroke-width="1" />
<rect x="268.7" y="275.6" width="20.80000000000001" height="16.649999999999977" fill="none" stroke="#353535" stroke-width="1.1"/>
<line x1="268.7" y1="280.4" x2="289.5" y2="280.4" stroke="#353535" stroke-width="1.1" />
<line x1="304.9" y1="266.5" x2="304.9" y2="273.75" stroke="#353535" stroke-width="1" />
<line x1="304.9" y1="279.75" x2="304.9" y2="279.75" stroke="#353535" stroke-width="1" />
<line x1="294.8" y1="266.5" x2="315" y2="266.5" stroke="#353535" stroke-width="1" />
<line x1="294.8" y1="279.75" x2="315" y2="279.75" stroke="#353535" stroke-width="1" />
<rect x="294.8" y="273.75" width="20.19999999999999" height="6.0" fill="none" stroke="#353535" stroke-width="1.1"/>
<line x1="294.8" y1="276.9" x2="315" y2="276.9" stroke="#353535" stroke-width="1.1" />
<line x1="330.7" y1="270.4" x2="330.7" y2="272.75" stroke="#353535" stroke-width="1" />
<line x1="330.7" y1="283.1" x2="330.7" y2="291.5" stroke="#353535" stroke-width="1" />
<line x1="320.5" y1="270.4" x2="340.9" y2="270.4" stroke="#353535" stroke-width="1" />
<line x1="320.5" y1="291.5" x2="340.9" y2="291.5" stroke="#353535" stroke-width="1" />
<rect x="320.5" y="272.75" width="20.399999999999977" height="10.350000000000023" fill="none" stroke="#353535" stroke-width="1.1"/>
<line x1="320.5" y1="280.4" x2="340.9" y2="280.4" stroke="#353535" stroke-width="1.1" />
<line x1="356.55" y1="241.9" x2="356.55" y2="252.75" stroke="#353535" stroke-width="1" />
<line x1="356.55" y1="272.75" x2="356.55" y2="291.25" stroke="#353535" stroke-width="1" />
<line x1="346.3" y1="241.9" x2="366.8" y2="241.9" stroke="#353535" stroke-width="1" />
<line x1="346.3" y1="291.25" x2="366.8" y2="291.25" stroke="#353535" stroke-width="1" />
<rect x="346.3" y="252.75" width="20.5" height="20.0" fill="none" stroke="#353535" stroke-width="1.1"/>
<line x1="346.3" y1="261.5" x2="366.8" y2="261.5" stroke="#353535" stroke-width="1.1" />
<circle cx="274" cy="270.4" r="2.3" fill="#97b3d0" fill-opacity="0.92"/>
<circle cx="283.1" cy="274.6" r="2.3" fill="#2a5e96" fill-opacity="0.92"/>
<circle cx="285" cy="275.9" r="2.3" fill="#2a5e96" fill-opacity="0.92"/>
<circle cx="273.1" cy="281" r="2.3" fill="#4677ab" fill-opacity="0.92"/>
<rect x="282.87" y="278.87" width="4.25" height="4.25" fill="#2a5e96" fill-opacity="0.92"/>
<circle cx="274" cy="290.25" r="2.3" fill="#97b3d0" fill-opacity="0.92"/>
<circle cx="285.25" cy="296.6" r="2.3" fill="#d2dde9" fill-opacity="0.92"/>
<circle cx="279.75" cy="307.25" r="2.3" fill="#4677ab" fill-opacity="0.92"/>
<circle cx="306.6" cy="266.5" r="2.3" fill="#7398c0" fill-opacity="0.92"/>
<circle cx="301.25" cy="276.25" r="2.3" fill="#4677ab" fill-opacity="0.92"/>
<circle cx="299.75" cy="279.75" r="2.3" fill="#d2dde9" fill-opacity="0.92"/>
<circle cx="307.1" cy="279.1" r="2.3" fill="#97b3d0" fill-opacity="0.92"/>
<circle cx="335" cy="270.4" r="2.3" fill="#7398c0" fill-opacity="0.92"/>
<rect x="325.97" y="270.97" width="4.25" height="4.25" fill="#97b3d0" fill-opacity="0.92"/>
<circle cx="333.4" cy="279.75" r="2.3" fill="#7398c0" fill-opacity="0.92"/>
<circle cx="324.75" cy="282.9" r="2.3" fill="#d2dde9" fill-opacity="0.92"/>
<rect x="322.62" y="289.12" width="4.25" height="4.25" fill="#d2dde9" fill-opacity="0.92"/>
<rect x="354.37" y="205.77" width="4.25" height="4.25" fill="#d2dde9" fill-opacity="0.92"/>
<rect x="351.87" y="239.47" width="4.25" height="4.25" fill="#0b417d" fill-opacity="0.92"/>
<circle cx="360" cy="245" r="2.3" fill="#0b417d" fill-opacity="0.92"/>
<rect x="350.77" y="248.87" width="4.25" height="4.25" fill="#97b3d0" fill-opacity="0.92"/>
<circle cx="356" cy="252.5" r="2.3" fill="#d2dde9" fill-opacity="0.92"/>
<circle cx="357.1" cy="256.9" r="2.3" fill="#2a5e96" fill-opacity="0.92"/>
<rect x="359.77" y="256.97" width="4.25" height="4.25" fill="#0b417d" fill-opacity="0.92"/>
<circle cx="351.9" cy="261.5" r="2.3" fill="#4677ab" fill-opacity="0.92"/>
<circle cx="362.75" cy="265.4" r="2.3" fill="#2a5e96" fill-opacity="0.92"/>
<rect x="354.77" y="267.27" width="4.25" height="4.25" fill="#7398c0" fill-opacity="0.92"/>
<rect x="359.77" y="268.27" width="4.25" height="4.25" fill="#d2dde9" fill-opacity="0.92"/>
<circle cx="356" cy="274.75" r="2.3" fill="#2a5e96" fill-opacity="0.92"/>
<rect x="354.77" y="274.12" width="4.25" height="4.25" fill="#2a5e96" fill-opacity="0.92"/>
<circle cx="350.9" cy="291.25" r="2.3" fill="#d2dde9" fill-opacity="0.92"/>
<text x="381.7" y="214.8" font-size="7.3" text-anchor="start" font-weight="normal" fill="#111" >Dose, μg</text>
<circle cx="384.6" cy="221.7" r="2.4" fill="#d2dde9"/>
<text x="389.9" y="224.2" font-size="7.3" text-anchor="start" font-weight="normal" fill="#111" >600</text>
<circle cx="384.6" cy="229.39999999999998" r="2.4" fill="#b8cbe0"/>
<text x="389.9" y="231.89999999999998" font-size="7.3" text-anchor="start" font-weight="normal" fill="#111" >1000</text>
<circle cx="384.6" cy="237.1" r="2.4" fill="#97b3d0"/>
<text x="389.9" y="239.6" font-size="7.3" text-anchor="start" font-weight="normal" fill="#111" >1800</text>
<circle cx="384.6" cy="244.79999999999998" r="2.4" fill="#7398c0"/>
<text x="389.9" y="247.29999999999998" font-size="7.3" text-anchor="start" font-weight="normal" fill="#111" >4000</text>
<circle cx="384.6" cy="252.5" r="2.4" fill="#4677ab"/>
<text x="389.9" y="255.0" font-size="7.3" text-anchor="start" font-weight="normal" fill="#111" >10000</text>
<circle cx="384.6" cy="260.2" r="2.4" fill="#2a5e96"/>
<text x="389.9" y="262.7" font-size="7.3" text-anchor="start" font-weight="normal" fill="#111" >16000</text>
<circle cx="384.6" cy="267.9" r="2.4" fill="#0b417d"/>
<text x="389.9" y="270.4" font-size="7.3" text-anchor="start" font-weight="normal" fill="#111" >25000</text>
<text x="381.7" y="287.3" font-size="6.8" text-anchor="start" font-weight="normal" fill="#111" >IPI</text>
<circle cx="384.2" cy="296.1" r="2.3" fill="#fff" stroke="#333" stroke-width="0.85"/>
<rect x="382.0" y="301.7" width="4.4" height="4.4" fill="#fff" stroke="#333" stroke-width="0.85"/>
<text x="389.59999999999997" y="298.40000000000003" font-size="7.3" text-anchor="start" font-weight="normal" fill="#111" >≤2</text>
<text x="389.59999999999997" y="306.2" font-size="7.3" text-anchor="start" font-weight="normal" fill="#111" >&gt;2</text>
<text class="cond" transform="translate(241.2,257.6) rotate(-90)" font-size="9.8" text-anchor="middle" fill="#111" textLength="63" lengthAdjust="spacingAndGlyphs"><tspan font-style="italic">MYC</tspan> targets signature</text>
<text x="6.7" y="362.2" font-size="11" text-anchor="start" font-weight="bold" fill="#000" >F</text>
<rect x="41.6" y="367.6" width="106.70000000000002" height="128.7" fill="none" stroke="#1a1a1a" stroke-width="1.35"/>
<line x1="38.300000000000004" y1="369.0" x2="41.6" y2="369.0" stroke="#222" stroke-width="1" />
<text x="36.3" y="371.2" font-size="7.3" text-anchor="end" font-weight="normal" fill="#111" >15</text>
<line x1="38.300000000000004" y1="396.5" x2="41.6" y2="396.5" stroke="#222" stroke-width="1" />
<text x="36.3" y="398.7" font-size="7.3" text-anchor="end" font-weight="normal" fill="#111" >10</text>
<line x1="38.300000000000004" y1="424.0" x2="41.6" y2="424.0" stroke="#222" stroke-width="1" />
<text x="36.3" y="426.2" font-size="7.3" text-anchor="end" font-weight="normal" fill="#111" >5</text>
<line x1="38.300000000000004" y1="451.5" x2="41.6" y2="451.5" stroke="#222" stroke-width="1" />
<text x="36.3" y="453.7" font-size="7.3" text-anchor="end" font-weight="normal" fill="#111" >0</text>
<line x1="38.300000000000004" y1="479.0" x2="41.6" y2="479.0" stroke="#222" stroke-width="1" />
<text x="36.3" y="481.2" font-size="7.3" text-anchor="end" font-weight="normal" fill="#111" >−5</text>
<line x1="56.8" y1="496.3" x2="56.8" y2="499.6" stroke="#222" stroke-width="1" />
<text x="56.8" y="492.75" font-size="7.3" text-anchor="middle" font-weight="normal" fill="#111" >9</text>
<text x="56.8" y="507.75" font-size="7.3" text-anchor="middle" font-weight="normal" fill="#111" >CR</text>
<line x1="82.3" y1="496.3" x2="82.3" y2="499.6" stroke="#222" stroke-width="1" />
<text x="82.3" y="492.75" font-size="7.3" text-anchor="middle" font-weight="normal" fill="#111" >4</text>
<text x="82.3" y="507.75" font-size="7.3" text-anchor="middle" font-weight="normal" fill="#111" >PR</text>
<line x1="107.6" y1="496.3" x2="107.6" y2="499.6" stroke="#222" stroke-width="1" />
<text x="107.6" y="492.75" font-size="7.3" text-anchor="middle" font-weight="normal" fill="#111" >5</text>
<text x="107.6" y="507.75" font-size="7.3" text-anchor="middle" font-weight="normal" fill="#111" >SD</text>
<line x1="132.9" y1="496.3" x2="132.9" y2="499.6" stroke="#222" stroke-width="1" />
<text x="132.9" y="492.75" font-size="7.3" text-anchor="middle" font-weight="normal" fill="#111" >17</text>
<text x="132.9" y="507.75" font-size="7.3" text-anchor="middle" font-weight="normal" fill="#111" >PD</text>
<text class="cond" x="94.95" y="521.3" font-size="9.8" text-anchor="middle" fill="#111" textLength="13" lengthAdjust="spacingAndGlyphs">BOR</text>
<path d="M57.3,378.3 V375.7 H108.4 V383.1" fill="none" stroke="#353535" stroke-width="1"/>
<line x1="87.3" y1="383.1" x2="133.5" y2="383.1" stroke="#353535" stroke-width="1" />
<text x="68.1" y="373.75" font-size="7.3" text-anchor="start" font-weight="normal" fill="#111" >P=0.02</text>
<line x1="56.900000000000006" y1="382.9" x2="56.900000000000006" y2="415.25" stroke="#353535" stroke-width="1" />
<line x1="56.900000000000006" y1="442.75" x2="56.900000000000006" y2="461" stroke="#353535" stroke-width="1" />
<line x1="46.6" y1="382.9" x2="67.2" y2="382.9" stroke="#353535" stroke-width="1" />
<line x1="46.6" y1="461" x2="67.2" y2="461" stroke="#353535" stroke-width="1" />
<rect x="46.6" y="415.25" width="20.6" height="27.5" fill="none" stroke="#353535" stroke-width="1.1"/>
<line x1="46.6" y1="424.4" x2="67.2" y2="424.4" stroke="#353535" stroke-width="1.1" />
<line x1="82.4" y1="427.9" x2="82.4" y2="434" stroke="#353535" stroke-width="1" />
<line x1="82.4" y1="439.6" x2="82.4" y2="445.6" stroke="#353535" stroke-width="1" />
<line x1="72.3" y1="427.9" x2="92.5" y2="427.9" stroke="#353535" stroke-width="1" />
<line x1="72.3" y1="445.6" x2="92.5" y2="445.6" stroke="#353535" stroke-width="1" />
<rect x="72.3" y="434" width="20.200000000000003" height="5.600000000000023" fill="none" stroke="#353535" stroke-width="1.1"/>
<line x1="72.3" y1="436.6" x2="92.5" y2="436.6" stroke="#353535" stroke-width="1.1" />
<line x1="107.5" y1="440.4" x2="107.5" y2="440.4" stroke="#353535" stroke-width="1" />
<line x1="107.5" y1="451.25" x2="107.5" y2="451.25" stroke="#353535" stroke-width="1" />
<line x1="97.3" y1="440.4" x2="117.7" y2="440.4" stroke="#353535" stroke-width="1" />
<line x1="97.3" y1="451.25" x2="117.7" y2="451.25" stroke="#353535" stroke-width="1" />
<rect x="97.3" y="440.4" width="20.400000000000006" height="10.850000000000023" fill="none" stroke="#353535" stroke-width="1.1"/>
<line x1="97.3" y1="441.2" x2="117.7" y2="441.2" stroke="#353535" stroke-width="1.1" />
<line x1="132.95" y1="440.25" x2="132.95" y2="453.75" stroke="#353535" stroke-width="1" />
<line x1="132.95" y1="464.6" x2="132.95" y2="481" stroke="#353535" stroke-width="1" />
<line x1="122.6" y1="440.25" x2="143.3" y2="440.25" stroke="#353535" stroke-width="1" />
<line x1="122.6" y1="481" x2="143.3" y2="481" stroke="#353535" stroke-width="1" />
<rect x="122.6" y="453.75" width="20.700000000000017" height="10.850000000000023" fill="none" stroke="#353535" stroke-width="1.1"/>
<line x1="122.6" y1="458.75" x2="143.3" y2="458.75" stroke="#353535" stroke-width="1.1" />
<circle cx="58.5" cy="382.9" r="2.3" fill="#4677ab" fill-opacity="0.92"/>
<circle cx="62.25" cy="408.4" r="2.3" fill="#97b3d0" fill-opacity="0.92"/>
<rect x="57.62" y="417.62" width="4.25" height="4.25" fill="#2a5e96" fill-opacity="0.92"/>
<circle cx="57.9" cy="427.9" r="2.3" fill="#4677ab" fill-opacity="0.92"/>
<circle cx="52.5" cy="442.75" r="2.3" fill="#2a5e96" fill-opacity="0.92"/>
<rect x="53.37" y="440.62" width="4.25" height="4.25" fill="#2a5e96" fill-opacity="0.92"/>
<circle cx="62.5" cy="461" r="2.3" fill="#97b3d0" fill-opacity="0.92"/>
<circle cx="86.9" cy="427.9" r="2.3" fill="#7398c0" fill-opacity="0.92"/>
<circle cx="86.25" cy="436.6" r="2.3" fill="#97b3d0" fill-opacity="0.92"/>
<rect x="110.97" y="409.12" width="4.25" height="4.25" fill="#d2dde9" fill-opacity="0.92"/>
<circle cx="101.25" cy="441.9" r="2.3" fill="#4677ab" fill-opacity="0.92"/>
<rect x="104.12" y="438.27" width="4.25" height="4.25" fill="#97b3d0" fill-opacity="0.92"/>
<circle cx="107.1" cy="451.25" r="2.3" fill="#97b3d0" fill-opacity="0.92"/>
<circle cx="113.75" cy="451.25" r="2.3" fill="#d2dde9" fill-opacity="0.92"/>
<circle cx="136" cy="417.25" r="2.3" fill="#d2dde9" fill-opacity="0.92"/>
<rect x="136.62" y="437.87" width="4.25" height="4.25" fill="#2a5e96" fill-opacity="0.92"/>
<circle cx="138.75" cy="447.5" r="2.3" fill="#2a5e96" fill-opacity="0.92"/>
<rect x="124.77" y="451.62" width="4.25" height="4.25" fill="#97b3d0" fill-opacity="0.92"/>
<rect x="126.62" y="452.27" width="4.25" height="4.25" fill="#7398c0" fill-opacity="0.92"/>
<circle cx="130" cy="456.5" r="2.3" fill="#4677ab" fill-opacity="0.92"/>
<circle cx="131.25" cy="460" r="2.3" fill="#d2dde9" fill-opacity="0.92"/>
<circle cx="136.9" cy="458.75" r="2.3" fill="#2a5e96" fill-opacity="0.92"/>
<rect x="134.77" y="458.47" width="4.25" height="4.25" fill="#2a5e96" fill-opacity="0.92"/>
<circle cx="136.25" cy="462.5" r="2.3" fill="#2a5e96" fill-opacity="0.92"/>
<circle cx="127.75" cy="465" r="2.3" fill="#2a5e96" fill-opacity="0.92"/>
<circle cx="134" cy="464.75" r="2.3" fill="#d2dde9" fill-opacity="0.92"/>
<rect x="124.77" y="471.87" width="4.25" height="4.25" fill="#d2dde9" fill-opacity="0.92"/>
<rect x="125.37" y="478.47" width="4.25" height="4.25" fill="#0b417d" fill-opacity="0.92"/>
<circle cx="128.5" cy="480.6" r="2.3" fill="#0b417d" fill-opacity="0.92"/>
<rect x="86.0" y="443.29999999999995" width="4.2" height="4.2" fill="#fff" stroke="#555" stroke-width="0.7"/>
<text x="159.2" y="387.5" font-size="7.3" text-anchor="start" font-weight="normal" fill="#111" >Dose, μg</text>
<circle cx="162.3" cy="395.2" r="2.4" fill="#d2dde9"/>
<text x="167.9" y="397.7" font-size="7.3" text-anchor="start" font-weight="normal" fill="#111" >600</text>
<circle cx="162.3" cy="402.95" r="2.4" fill="#b8cbe0"/>
<text x="167.9" y="405.45" font-size="7.3" text-anchor="start" font-weight="normal" fill="#111" >1000</text>
<circle cx="162.3" cy="410.7" r="2.4" fill="#97b3d0"/>
<text x="167.9" y="413.2" font-size="7.3" text-anchor="start" font-weight="normal" fill="#111" >1800</text>
<circle cx="162.3" cy="418.45" r="2.4" fill="#7398c0"/>
<text x="167.9" y="420.95" font-size="7.3" text-anchor="start" font-weight="normal" fill="#111" >4000</text>
<circle cx="162.3" cy="426.2" r="2.4" fill="#4677ab"/>
<text x="167.9" y="428.7" font-size="7.3" text-anchor="start" font-weight="normal" fill="#111" >10000</text>
<circle cx="162.3" cy="433.95" r="2.4" fill="#2a5e96"/>
<text x="167.9" y="436.45" font-size="7.3" text-anchor="start" font-weight="normal" fill="#111" >16000</text>
<circle cx="162.3" cy="441.7" r="2.4" fill="#0b417d"/>
<text x="167.9" y="444.2" font-size="7.3" text-anchor="start" font-weight="normal" fill="#111" >25000</text>
<text x="159.2" y="460.9" font-size="6.8" text-anchor="start" font-weight="normal" fill="#111" >IPI</text>
<circle cx="162.3" cy="469.2" r="2.3" fill="#fff" stroke="#333" stroke-width="0.85"/>
<rect x="160.10000000000002" y="474.7" width="4.4" height="4.4" fill="#fff" stroke="#333" stroke-width="0.85"/>
<text x="167.6" y="471.5" font-size="7.3" text-anchor="start" font-weight="normal" fill="#111" >≤2</text>
<text x="167.6" y="479.2" font-size="7.3" text-anchor="start" font-weight="normal" fill="#111" >&gt;2</text>
<text class="cond" transform="translate(21.3,430.3) rotate(-90)" font-size="9.8" text-anchor="middle" fill="#111" textLength="64" lengthAdjust="spacingAndGlyphs"><tspan font-style="italic">TP53</tspan> targets signature</text>
<text x="230.6" y="362.5" font-size="11" text-anchor="start" font-weight="bold" fill="#000" >G</text>
<text x="271.5" y="375.8" font-size="8.8" fill="#111" textLength="82.7" lengthAdjust="spacingAndGlyphs"><tspan font-style="italic">TP53</tspan> mutation status</text>
<line x1="263.5" y1="388.8" x2="263.5" y2="491.9" stroke="#111" stroke-width="1.35" />
<line x1="262.85" y1="491.2" x2="355.4" y2="491.2" stroke="#111" stroke-width="1.3" />
<line x1="260.9" y1="490.5" x2="263.5" y2="490.5" stroke="#353535" stroke-width="1" />
<text x="257.5" y="493.0" font-size="7.3" text-anchor="end" font-weight="normal" fill="#111" >0</text>
<line x1="260.9" y1="470.88" x2="263.5" y2="470.88" stroke="#353535" stroke-width="1" />
<text x="257.5" y="473.38" font-size="7.3" text-anchor="end" font-weight="normal" fill="#111" >20</text>
<line x1="260.9" y1="451.26" x2="263.5" y2="451.26" stroke="#353535" stroke-width="1" />
<text x="257.5" y="453.76" font-size="7.3" text-anchor="end" font-weight="normal" fill="#111" >40</text>
<line x1="260.9" y1="431.64" x2="263.5" y2="431.64" stroke="#353535" stroke-width="1" />
<text x="257.5" y="434.14" font-size="7.3" text-anchor="end" font-weight="normal" fill="#111" >60</text>
<line x1="260.9" y1="412.02" x2="263.5" y2="412.02" stroke="#353535" stroke-width="1" />
<text x="257.5" y="414.52" font-size="7.3" text-anchor="end" font-weight="normal" fill="#111" >80</text>
<line x1="260.9" y1="392.4" x2="263.5" y2="392.4" stroke="#353535" stroke-width="1" />
<text x="257.5" y="394.9" font-size="7.3" text-anchor="end" font-weight="normal" fill="#111" >100</text>
<rect x="266.9" y="392.40981" width="39.10000000000002" height="98.09018999999999" fill="#5a2469"/>
<rect x="266.9" y="422.59518" width="39.10000000000002" height="67.90482" fill="#3cb54a"/>
<rect x="266.9" y="430.13907" width="39.10000000000002" height="60.36093" fill="#0f4c81"/>
<rect x="266.9" y="445.22685" width="39.10000000000002" height="45.27315" fill="#c8102e"/>
<line x1="286.5" y1="491.0" x2="286.5" y2="493.8" stroke="#353535" stroke-width="1" />
<rect x="313.6" y="392.4" width="39.099999999999966" height="98.1" fill="#5a2469"/>
<rect x="313.6" y="446.355" width="39.099999999999966" height="44.144999999999996" fill="#3cb54a"/>
<rect x="313.6" y="465.975" width="39.099999999999966" height="24.525" fill="#0f4c81"/>
<rect x="313.6" y="475.785" width="39.099999999999966" height="14.715" fill="#c8102e"/>
<line x1="332.8" y1="491.0" x2="332.8" y2="493.8" stroke="#353535" stroke-width="1" />
<text x="286.4" y="389.8" font-size="7.3" text-anchor="middle" font-weight="normal" fill="#111" >n=13</text>
<text x="333.3" y="389.8" font-size="7.3" text-anchor="middle" font-weight="normal" fill="#111" >20</text>
<text x="286.5" y="502.9" font-size="7.3" text-anchor="middle" font-weight="normal" fill="#111" >WT</text>
<text x="333.1" y="502.7" font-size="7.3" text-anchor="middle" font-weight="normal" fill="#111" >Mut</text>
<rect x="363.2" y="448.5" width="4.9" height="4.6" fill="#c8102e"/>
<text x="371" y="453.3" font-size="7.3" text-anchor="start" font-weight="normal" fill="#111" >CR</text>
<rect x="363.2" y="458.0" width="4.9" height="4.6" fill="#0f4c81"/>
<text x="371" y="462.8" font-size="7.3" text-anchor="start" font-weight="normal" fill="#111" >PR</text>
<rect x="363.2" y="467.5" width="4.9" height="4.6" fill="#3cb54a"/>
<text x="371" y="472.3" font-size="7.3" text-anchor="start" font-weight="normal" fill="#111" >SD</text>
<rect x="363.2" y="477.0" width="4.9" height="4.6" fill="#5a2469"/>
<text x="371" y="481.8" font-size="7.3" text-anchor="start" font-weight="normal" fill="#111" >PD</text>
<text class="cond" transform="translate(240.2,436.6) rotate(-90)" font-size="9.8" text-anchor="middle" fill="#111" textLength="21.4" lengthAdjust="spacingAndGlyphs">Percent</text>
<rect x="0.5" y="0.5" width="519" height="527" fill="none" stroke="#000" stroke-width="1"/>
</svg>
</body></html>
